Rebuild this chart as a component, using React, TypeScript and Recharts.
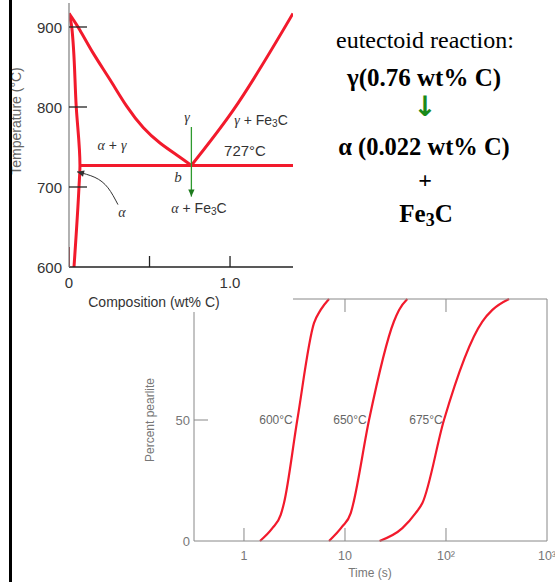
import React from 'react'
import { LineChart, Line, XAxis, YAxis } from 'recharts'

// ---- Fe–Fe3C phase diagram (eutectoid corner) ----
const compTicks = [0, 0.5, 1.0]
const compTickLabels = ['0', '', '1.0']
const tempTicks = [600, 700, 800, 900]

// gamma / (alpha + gamma) boundary
const gammaLine = [
  { x: 0, y: 917 },
  { x: 0.068, y: 896 },
  { x: 0.151, y: 867 },
  { x: 0.255, y: 834 },
  { x: 0.358, y: 801 },
  { x: 0.462, y: 774 },
  { x: 0.565, y: 755 },
  { x: 0.669, y: 740 },
  { x: 0.76, y: 727 },
]
// gamma / (gamma + Fe3C) boundary
const cementiteLine = [
  { x: 0.76, y: 727 },
  { x: 1.02, y: 796 },
  { x: 1.391, y: 917 },
]
// alpha solvus
const alphaLine = [
  { x: 0, y: 917 },
  { x: 0.017, y: 900 },
  { x: 0.045, y: 800 },
  { x: 0.068, y: 727 },
  { x: 0.062, y: 700 },
  { x: 0.031, y: 600 },
]
const eutectoidLine = [
  { x: 0.068, y: 727 },
  { x: 1.391, y: 727 },
]
const stubLine = [
  { x: 0, y: 625 },
  { x: 0, y: 600 },
]
// green cooling arrow at 0.76 wt% C
const coolArrow = [
  { x: 0.76, y: 775 },
  { x: 0.76, y: 688 },
]
// pointer from the alpha label
const alphaPointer = [
  { x: 0.304, y: 678 },
  { x: 0.242, y: 699 },
  { x: 0.161, y: 712 },
  { x: 0.05, y: 719 },
]

// ---- isothermal transformation curves ----
const timeTicks = [1, 10, 100, 1000]
const timeTickLabels = ['1', '10', '10²', '10³']
const pearliteTicks = [0, 50, 100]
const pearliteTickLabels = ['0', '50', '']

const curve600 = [
  { t: 1.44, p: 0 },
  { t: 1.91, p: 5.3 },
  { t: 2.31, p: 10.8 },
  { t: 2.49, p: 15.7 },
  { t: 3.37, p: 50 },
  { t: 4.93, p: 90 },
  { t: 5.74, p: 95.5 },
  { t: 6.95, p: 100 },
]
const curve650 = [
  { t: 6.95, p: 0 },
  { t: 9.4, p: 6 },
  { t: 11.4, p: 11.5 },
  { t: 12.0, p: 15 },
  { t: 17.3, p: 50 },
  { t: 30.5, p: 90.7 },
  { t: 34.3, p: 95.5 },
  { t: 41.4, p: 100 },
]
const curve675 = [
  { t: 22, p: 0 },
  { t: 37, p: 5.3 },
  { t: 50, p: 11.5 },
  { t: 58.4, p: 15.7 },
  { t: 95.5, p: 50 },
  { t: 229, p: 90.7 },
  { t: 288, p: 95.5 },
  { t: 421, p: 100 },
]
const curveLabels = ['600°C', '650°C', '675°C']

const RED = '#f21a2c'
const SANS = '"Liberation Sans", Arial, sans-serif'
const SERIF = '"Liberation Serif", "Times New Roman", serif'

function TempTick({ x, y, payload }: any) {
  return (
    <g>
      {payload.value > 600 && <line x1={x} x2={x + 18} y1={y} y2={y} stroke="#222" strokeWidth={1.3} />}
      <text x={x - 7} y={y} textAnchor="end" dominantBaseline="central" fontSize={15} fill="#333" fontFamily={SANS}>
        {payload.value}
      </text>
    </g>
  )
}

function CompTick({ x, y, payload }: any) {
  const i = compTicks.indexOf(payload.value)
  return (
    <g>
      {payload.value > 0 && <line x1={x} x2={x} y1={y} y2={y - 11} stroke="#222" strokeWidth={1.3} />}
      <text x={x} y={y + 15} textAnchor="middle" dominantBaseline="central" fontSize={15} fill="#333" fontFamily={SANS}>
        {compTickLabels[i]}
      </text>
    </g>
  )
}

function PearliteTick({ x, y, payload }: any) {
  const i = pearliteTicks.indexOf(payload.value)
  return (
    <g>
      {payload.value === 50 && <line x1={x} x2={x + 14} y1={y} y2={y} stroke="#888" />}
      <text x={x - 4} y={y} textAnchor="end" dominantBaseline="central" fontSize={13} fill="#777" fontFamily={SANS}>
        {pearliteTickLabels[i]}
      </text>
    </g>
  )
}

function RightTick({ x, y, payload }: any) {
  if (payload.value !== 50) return <g />
  return <line x1={x} x2={x - 15} y1={y} y2={y} stroke="#888" />
}

function TimeTick({ x, y, payload }: any) {
  const i = timeTicks.indexOf(payload.value)
  return (
    <g>
      {payload.value < 1000 && <line x1={x} x2={x} y1={y} y2={y - 13} stroke="#888" />}
      <text x={x} y={y + 15} textAnchor="middle" dominantBaseline="central" fontSize={12.5} fill="#777" fontFamily={SANS}>
        {timeTickLabels[i]}
      </text>
    </g>
  )
}

function TopTick({ x, y, payload }: any) {
  if (payload.value >= 1000) return <g />
  return <line x1={x} x2={x} y1={y} y2={y + 13} stroke="#888" />
}

// arrow head drawn at the last point of a series
function arrowDot(last: number, angle: number, color: string, size: number) {
  return (props: any) => {
    const { cx, cy, index } = props
    if (index !== last) return <g key={index} />
    return (
      <polygon
        key={index}
        points={`0,0 ${-size},${-size * 0.45} ${-size},${size * 0.45}`}
        transform={`translate(${cx},${cy}) rotate(${angle})`}
        fill={color}
      />
    )
  }
}

function Txt({ x, y, children, style }: any) {
  return (
    <div
      style={{
        position: 'absolute',
        left: x,
        top: y,
        transform: 'translate(-50%, -50%)',
        whiteSpace: 'nowrap',
        lineHeight: 1,
        ...style,
      }}
    >
      {children}
    </div>
  )
}

const greek = { fontFamily: SERIF, fontStyle: 'italic' }
const sub = { fontSize: '0.72em', verticalAlign: '-0.25em' }

export default function App() {
  return (
    <div style={{ position: 'absolute', left: 0, top: 0, width: 555, height: 582, background: '#fff', overflow: 'hidden' }}>
      {/* percent pearlite vs time */}
      <div style={{ position: 'absolute', left: 0, top: 0 }}>
        <LineChart width={555} height={582} margin={{ top: 0, right: 0, bottom: 0, left: 0 }}>
          <XAxis
            xAxisId="bottom"
            dataKey="t"
            type="number"
            scale="log"
            domain={[0.32, 1000]}
            allowDataOverflow
            ticks={timeTicks}
            height={41}
            tickSize={0}
            tickMargin={0}
            tickLine={false}
            axisLine={{ stroke: '#888' }}
            tick={<TimeTick />}
            interval={0}
          />
          <XAxis
            xAxisId="top"
            orientation="top"
            dataKey="t"
            type="number"
            scale="log"
            domain={[0.32, 1000]}
            allowDataOverflow
            ticks={timeTicks}
            height={299}
            tickSize={0}
            tickMargin={0}
            tickLine={false}
            axisLine={{ stroke: '#888' }}
            tick={<TopTick />}
            interval={0}
          />
          <YAxis
            yAxisId="left"
            dataKey="p"
            type="number"
            domain={[0, 100]}
            ticks={pearliteTicks}
            width={194}
            tickSize={0}
            tickMargin={0}
            tickLine={false}
            axisLine={{ stroke: '#888' }}
            tick={<PearliteTick />}
            interval={0}
          />
          <YAxis
            yAxisId="right"
            orientation="right"
            dataKey="p"
            type="number"
            domain={[0, 100]}
            ticks={[50]}
            width={8}
            tickSize={0}
            tickMargin={0}
            tickLine={false}
            axisLine={{ stroke: '#888' }}
            tick={<RightTick />}
          />
          {[curve600, curve650, curve675].map((c, i) => (
            <Line
              key={i}
              data={c}
              xAxisId="bottom"
              yAxisId="left"
              dataKey="p"
              type="monotone"
              stroke={RED}
              strokeWidth={2.2}
              dot={false}
              isAnimationActive={false}
            />
          ))}
        </LineChart>
      </div>

      <Txt x={276} y={420} style={{ fontFamily: SANS, fontSize: 12, color: '#666' }}>{curveLabels[0]}</Txt>
      <Txt x={350} y={420} style={{ fontFamily: SANS, fontSize: 12, color: '#666' }}>{curveLabels[1]}</Txt>
      <Txt x={426} y={420} style={{ fontFamily: SANS, fontSize: 12, color: '#666' }}>{curveLabels[2]}</Txt>
      <Txt x={370} y={573} style={{ fontFamily: SANS, fontSize: 12, color: '#777' }}>Time (s)</Txt>
      <Txt x={150} y={420} style={{ fontFamily: SANS, fontSize: 12, color: '#777', transform: 'translate(-50%, -50%) rotate(-90deg)' }}>
        Percent pearlite
      </Txt>

      {/* phase diagram overlay */}
      <div style={{ position: 'absolute', left: 12, top: 0, width: 281, height: 312, background: '#fff' }}>
        <LineChart width={281} height={312} margin={{ top: 3, right: 0, bottom: 0, left: 0 }}>
          <XAxis
            dataKey="x"
            type="number"
            domain={[0, 1.391]}
            allowDataOverflow
            ticks={compTicks}
            height={45}
            tickSize={0}
            tickMargin={0}
            tickLine={false}
            axisLine={{ stroke: '#222', strokeWidth: 1.3 }}
            tick={<CompTick />}
            interval={0}
          />
          <YAxis
            dataKey="y"
            type="number"
            domain={[600, 930]}
            allowDataOverflow
            ticks={tempTicks}
            width={57}
            tickSize={0}
            tickMargin={0}
            tickLine={false}
            axisLine={{ stroke: '#888', strokeWidth: 1.3 }}
            tick={<TempTick />}
            interval={0}
          />
          <Line data={stubLine} dataKey="y" type="linear" stroke="#8a0d14" strokeWidth={2} dot={false} isAnimationActive={false} />
          <Line data={alphaLine} dataKey="y" type="monotoneY" stroke={RED} strokeWidth={3} dot={false} isAnimationActive={false} />
          <Line data={gammaLine} dataKey="y" type="natural" stroke={RED} strokeWidth={3} dot={false} isAnimationActive={false} />
          <Line data={cementiteLine} dataKey="y" type="monotone" stroke={RED} strokeWidth={3} dot={false} isAnimationActive={false} />
          <Line data={eutectoidLine} dataKey="y" type="linear" stroke={RED} strokeWidth={3} dot={false} isAnimationActive={false} />
          <Line
            data={alphaPointer}
            dataKey="y"
            type="natural"
            stroke="#333"
            strokeWidth={1}
            dot={arrowDot(alphaPointer.length - 1, 195, '#333', 7)}
            isAnimationActive={false}
          />
          <Line
            data={coolArrow}
            dataKey="y"
            type="linear"
            stroke="#2e9a2e"
            strokeWidth={1.3}
            dot={arrowDot(coolArrow.length - 1, 90, '#1d7a1d', 7)}
            isAnimationActive={false}
          />
        </LineChart>
      </div>

      {/* phase diagram labels */}
      <Txt x={16} y={121} style={{ fontFamily: SANS, fontSize: 14, color: '#666', transform: 'translate(-50%, -50%) rotate(-90deg)' }}>
        Temperature (°C)
      </Txt>
      <Txt x={154} y={302} style={{ fontFamily: SANS, fontSize: 14, color: '#333' }}>Composition (wt% C)</Txt>
      <Txt x={112} y={145} style={{ fontFamily: SANS, fontSize: 14, color: '#333' }}>
        <span style={greek}>α</span> + <span style={greek}>γ</span>
      </Txt>
      <Txt x={187} y={118} style={{ fontSize: 14, color: '#333', ...greek }}>γ</Txt>
      <Txt x={261} y={121} style={{ fontFamily: SANS, fontSize: 14, color: '#333' }}>
        <span style={greek}>γ</span> + Fe<span style={sub}>3</span>C
      </Txt>
      <Txt x={245} y={150} style={{ fontFamily: SANS, fontSize: 15, color: '#333' }}>727°C</Txt>
      <Txt x={178} y={177} style={{ fontSize: 15, color: '#333', ...greek }}>b</Txt>
      <Txt x={199} y={209} style={{ fontFamily: SANS, fontSize: 14, color: '#333' }}>
        <span style={greek}>α</span> + Fe<span style={sub}>3</span>C
      </Txt>
      <Txt x={122} y={213} style={{ fontSize: 14, color: '#333', ...greek }}>α</Txt>

      {/* reaction text */}
      <Txt x={425} y={40} style={{ fontFamily: SERIF, fontSize: 24, color: '#000' }}>eutectoid reaction:</Txt>
      <Txt x={424} y={77} style={{ fontFamily: SERIF, fontSize: 25, fontWeight: 700, color: '#000' }}>γ(0.76 wt% C)</Txt>
      <Txt x={425} y={107} style={{ fontFamily: '"DejaVu Sans", sans-serif', fontSize: 28, fontWeight: 700, color: '#1a8a1a' }}>↓</Txt>
      <Txt x={424} y={147} style={{ fontFamily: SERIF, fontSize: 24.5, fontWeight: 700, color: '#000' }}>α (0.022 wt% C)</Txt>
      <Txt x={425} y={180} style={{ fontFamily: SERIF, fontSize: 24, fontWeight: 700, color: '#000' }}>+</Txt>
      <Txt x={426} y={215} style={{ fontFamily: SERIF, fontSize: 25, fontWeight: 700, color: '#000' }}>
        Fe<span style={sub}>3</span>C
      </Txt>

      {/* left border */}
      <div style={{ position: 'absolute', left: 9, top: 0, width: 3, height: 582, background: '#000' }} />
    </div>
  )
}
